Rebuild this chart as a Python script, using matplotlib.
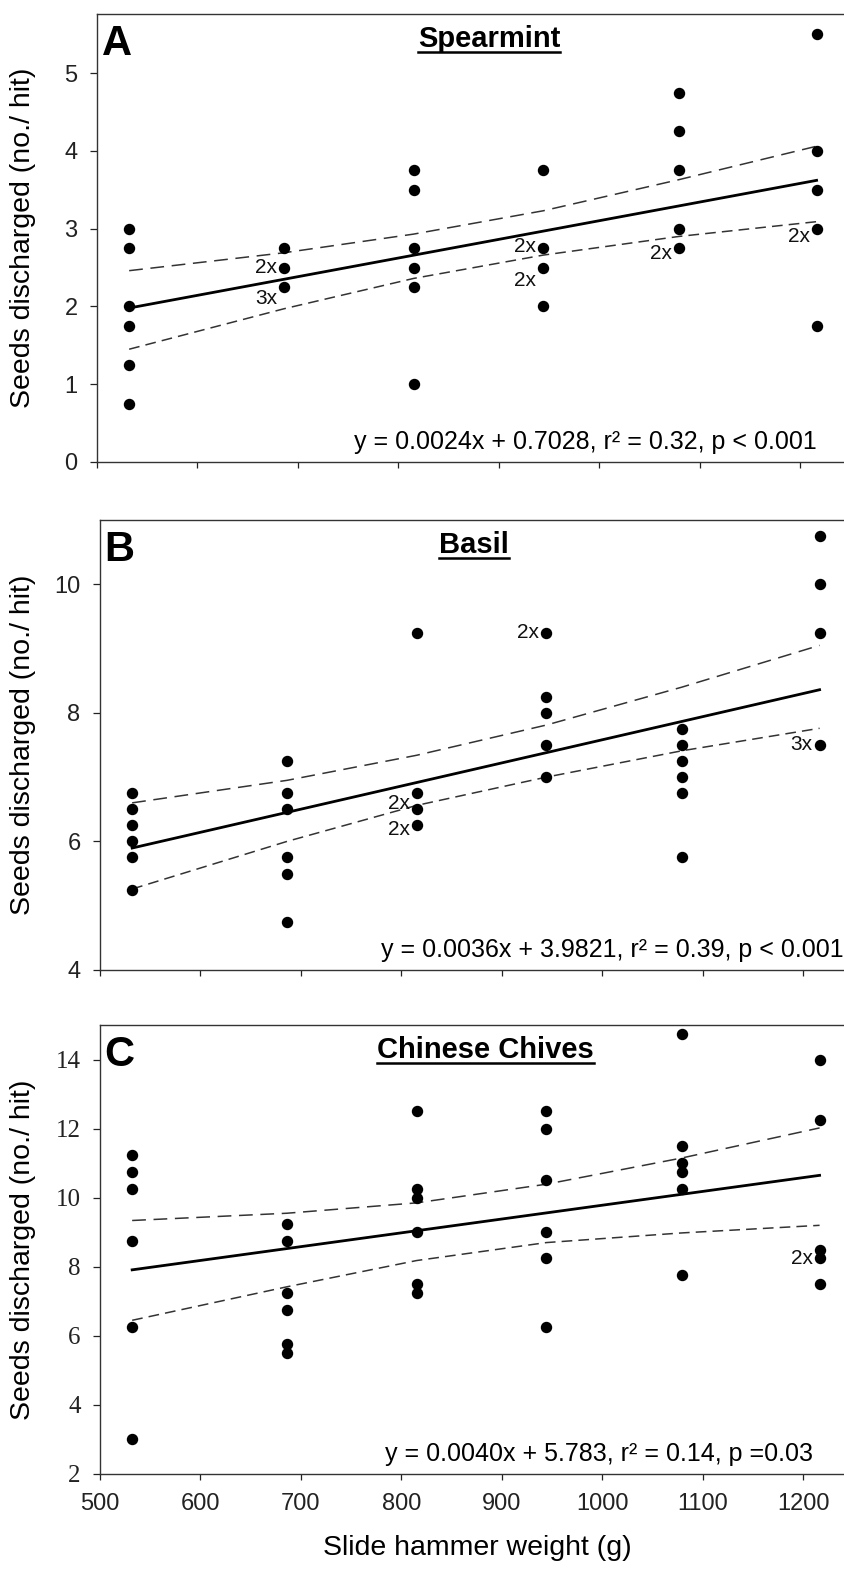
import matplotlib
matplotlib.use("Agg")
import matplotlib.pyplot as plt

plt.rcParams['font.family'] = ['Liberation Sans', 'DejaVu Sans']

# slide hammer weights (g), same six levels in every panel
weights = [532, 686, 815, 944, 1079, 1216]

# Spearmint (A)
mint_seeds = [
    [3.0, 2.75, 2.0, 1.75, 1.25, 0.75],
    [2.75, 2.5, 2.25],
    [3.75, 3.5, 2.75, 2.5, 2.25, 1.0],
    [3.75, 2.75, 2.5, 2.0],
    [4.75, 4.25, 3.75, 3.0, 2.75],
    [5.5, 4.0, 3.5, 3.0, 1.75],
]
mint_upper = [2.46, 2.69, 2.93, 3.23, 3.63, 4.06]
mint_lower = [1.45, 1.97, 2.36, 2.66, 2.90, 3.09]
mint_fit = (0.0024, 0.7028)
mint_reps = [(686, 2.5, '2x'), (686, 2.25, '3x'), (944, 2.75, '2x'),
             (944, 2.5, '2x'), (1079, 2.75, '2x'), (1216, 3.0, '2x')]

# Basil (B)
basil_seeds = [
    [6.75, 6.5, 6.25, 6.0, 5.75, 5.25],
    [7.25, 6.75, 6.5, 5.75, 5.5, 4.75],
    [9.25, 6.75, 6.5, 6.25],
    [9.25, 8.25, 8.0, 7.5, 7.0],
    [7.75, 7.5, 7.25, 7.0, 6.75, 5.75],
    [10.75, 10.0, 9.25, 7.5],
]
basil_upper = [6.60, 6.95, 7.34, 7.81, 8.40, 9.05]
basil_lower = [5.26, 6.00, 6.56, 7.00, 7.41, 7.76]
basil_fit = (0.0036, 3.9821)
basil_reps = [(815, 6.5, '2x'), (815, 6.25, '2x'), (944, 9.25, '2x'),
              (1216, 7.5, '3x')]

# Chinese chives (C)
chive_seeds = [
    [11.25, 10.75, 10.25, 8.75, 6.25, 3.0],
    [9.25, 8.75, 7.25, 6.75, 5.75, 5.5],
    [12.5, 10.25, 10.0, 9.0, 7.5, 7.25],
    [12.5, 12.0, 10.5, 9.0, 8.25, 6.25],
    [14.75, 11.5, 11.0, 10.75, 10.25, 7.75],
    [14.0, 12.25, 8.5, 8.25, 7.5],
]
chive_upper = [9.34, 9.55, 9.85, 10.39, 11.15, 12.02]
chive_lower = [6.45, 7.42, 8.18, 8.70, 8.98, 9.20]
chive_fit = (0.0040, 5.783)
chive_reps = [(1216, 8.25, '2x')]

panels = [
    dict(letter='A', title='Spearmint', seeds=mint_seeds, upper=mint_upper,
         lower=mint_lower, fit=mint_fit, reps=mint_reps,
         eq='y = 0.0024x + 0.7028, r² = 0.32, p < 0.001',
         ylim=(0, 5.76), yticks=[0, 1, 2, 3, 4, 5],
         pos=(97, 14, 462), title_x=0.52, eq_x=0.955),
    dict(letter='B', title='Basil', seeds=basil_seeds, upper=basil_upper,
         lower=basil_lower, fit=basil_fit, reps=basil_reps,
         eq='y = 0.0036x + 3.9821, r² = 0.39, p < 0.001',
         ylim=(4, 11), yticks=[4, 6, 8, 10],
         pos=(100, 520, 970), title_x=0.496, eq_x=0.986),
    dict(letter='C', title='Chinese Chives', seeds=chive_seeds, upper=chive_upper,
         lower=chive_lower, fit=chive_fit, reps=chive_reps,
         eq='y = 0.0040x + 5.783, r² = 0.14, p =0.03',
         ylim=(2, 15), yticks=[2, 4, 6, 8, 10, 12, 14],
         pos=(100, 1025, 1474), title_x=0.511, eq_x=0.946),
]

W, H = 845, 1569
fig = plt.figure(figsize=(W / 100, H / 100), dpi=100)
xlim = (500, 1250)
px_per_g = 1.005

rep_offsets = {
    ('A', 686, 2.5): (-5, 0), ('A', 686, 2.25): (-5, -8),
    ('A', 944, 2.75): (-5, 1), ('A', 944, 2.5): (-5, -9),
    ('A', 1079, 2.75): (-5, -4), ('A', 1216, 3.0): (-5, -6),
    ('B', 815, 6.5): (-5, 4), ('B', 815, 6.25): (-5, -3),
    ('B', 944, 9.25): (-5, 0), ('B', 1216, 7.5): (-5, 0),
    ('C', 1216, 8.25): (-5, 0),
}

underline_jobs = []
for p in panels:
    left, top, bottom = p['pos']
    width = (xlim[1] - xlim[0]) * px_per_g
    ax = fig.add_axes([left / W, 1 - bottom / H, width / W, (bottom - top) / H])
    ax.set_xlim(*xlim)
    ax.set_ylim(*p['ylim'])

    for w, col in zip(weights, p['seeds']):
        ax.plot([w] * len(col), col, 'o', color='black', ms=7.2, zorder=3)

    a, b = p['fit']
    xs = [weights[0], weights[-1]]
    ax.plot(xs, [a * x + b for x in xs], color='black', lw=2.0, zorder=2)
    ax.plot(weights, p['upper'], color='#333333', lw=1.1, dashes=(9, 5))
    ax.plot(weights, p['lower'], color='#333333', lw=1.1, dashes=(7, 4))

    for (x, y, lab) in p['reps']:
        dx, dy = rep_offsets[(p['letter'], x, y)]
        ax.annotate(lab, (x, y), xytext=(dx, dy), textcoords='offset points',
                    ha='right', va='center', fontsize=15, color='#111111')

    ax.text(0.006, 0.908, p['letter'], transform=ax.transAxes,
            fontsize=30, fontweight='bold', ha='left', va='baseline')
    t = ax.text(p['title_x'], 0.926, p['title'], transform=ax.transAxes,
                fontsize=21, fontweight='bold', ha='center', va='baseline')
    underline_jobs.append((ax, t))
    ax.text(p['eq_x'], 0.029, p['eq'], transform=ax.transAxes,
            fontsize=18, ha='right', va='baseline')

    ax.set_xticks(range(500, 1201, 100))
    ax.set_yticks(p['yticks'])
    ax.tick_params(axis='y', direction='out', length=5, width=0.9,
                   labelsize=17, pad=9, colors='#222222')
    ax.tick_params(axis='x', direction='out', length=4, width=0.9,
                   labelsize=17, pad=10, colors='#222222')
    for s in ax.spines.values():
        s.set_linewidth(1.0)
        s.set_color('#333333')
    ax.set_ylabel('Seeds discharged (no./ hit)', fontsize=20.5)
    ax.yaxis.set_label_coords((36 - left) / width, 0.5)

    if p['letter'] != 'C':
        ax.tick_params(axis='x', labelbottom=False)
    else:
        for lab in ax.get_yticklabels():
            lab.set_family('Liberation Serif')
            lab.set_fontsize(18)
        ax.set_xlabel('Slide hammer weight (g)', fontsize=20.5, labelpad=14)

# underline the panel titles
fig.canvas.draw()
renderer = fig.canvas.get_renderer()
for ax, t in underline_jobs:
    bb = t.get_window_extent(renderer)
    inv = ax.transAxes.inverted()
    (x0, y0), (x1, y1) = inv.transform([(bb.x0, bb.y0), (bb.x1, bb.y0)])
    ax.plot([x0, x1], [y0 + 0.002, y0 + 0.002], transform=ax.transAxes,
            color='black', lw=1.8, clip_on=False)

fig.savefig('out.png', dpi=100)
